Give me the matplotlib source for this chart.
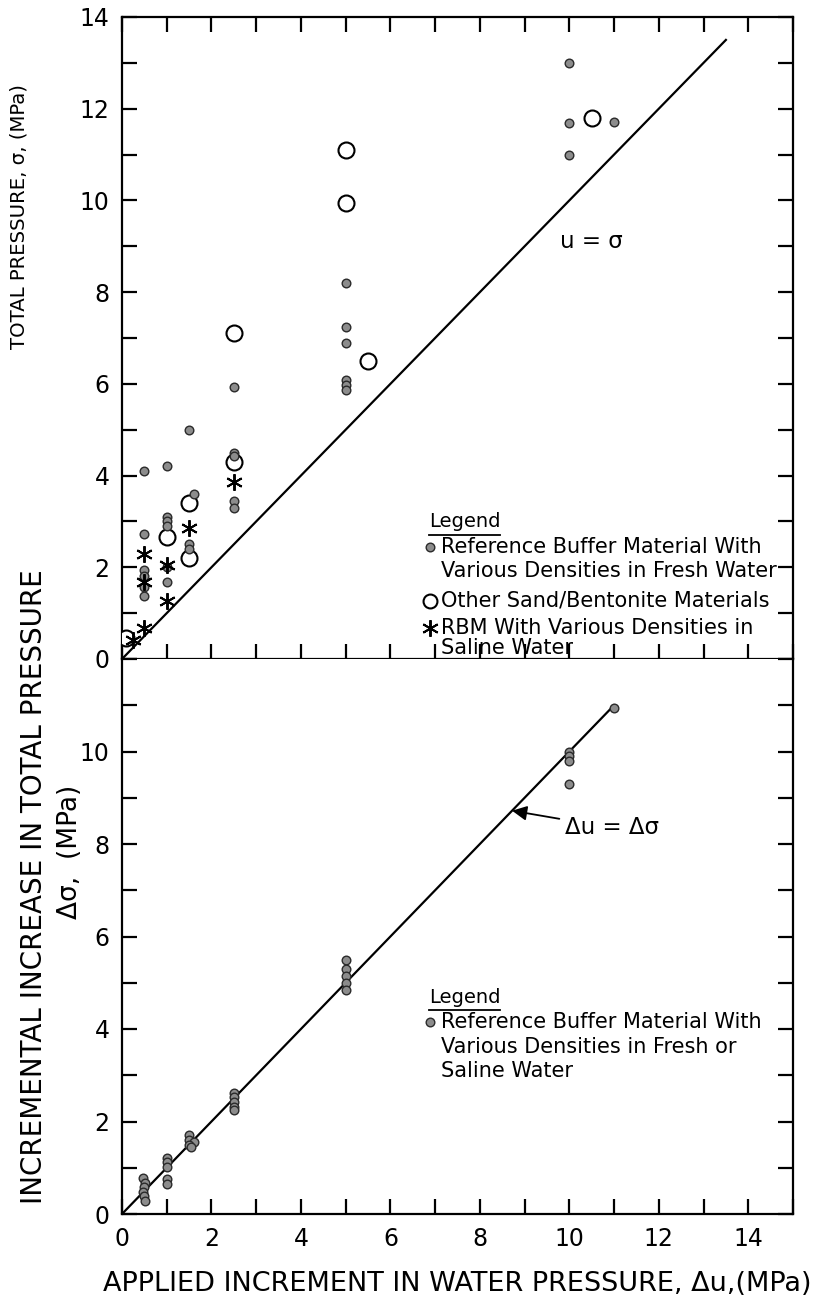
import matplotlib
matplotlib.use("Agg")
import matplotlib.pyplot as plt
from matplotlib.lines import Line2D
from matplotlib.ticker import MultipleLocator

plt.rcParams['font.family'] = ['DejaVu Sans']
plt.rcParams['mathtext.fontset'] = 'dejavusans'

# ---- upper panel: total pressure vs applied water pressure ----
fresh_x = [0.5, 0.5, 0.5, 0.5, 0.5, 0.5,
           1.0, 1.0, 1.0, 1.0, 1.0, 1.0,
           1.5, 1.5, 1.5, 1.6,
           2.5, 2.5, 2.5, 2.5, 2.5,
           5.0, 5.0, 5.0, 5.0, 5.0, 5.0,
           10.0, 10.0, 10.0, 11.0]
fresh_y = [4.1, 2.72, 1.94, 1.8, 1.57, 1.38,
           4.2, 3.1, 3.0, 2.9, 2.0, 1.68,
           5.0, 2.5, 2.4, 3.6,
           5.93, 4.5, 4.42, 3.45, 3.3,
           8.2, 7.25, 6.9, 6.08, 5.97, 5.87,
           13.0, 11.68, 11.0, 11.7]

other_x = [0.1, 1.0, 1.5, 1.5, 2.5, 2.5, 5.0, 5.0, 5.5, 10.5]
other_y = [0.45, 2.65, 2.2, 3.4, 4.3, 7.1, 11.1, 9.95, 6.5, 11.8]

saline_x = [0.25, 0.5, 0.5, 0.5, 1.0, 1.0, 1.5, 2.5]
saline_y = [0.42, 0.68, 1.68, 2.3, 1.26, 2.05, 2.85, 3.85]

equal_line_top = [0.0, 13.5]

# ---- lower panel: incremental total pressure vs applied increment ----
incr_x = [0.48, 0.52, 0.5, 0.48, 0.5, 0.52,
          1.0, 1.0, 1.0, 1.0, 1.0,
          1.5, 1.5, 1.6, 1.5, 1.55,
          2.5, 2.5, 2.5, 2.5, 2.5,
          5.0, 5.0, 5.0, 5.0, 5.0,
          10.0, 10.0, 10.0, 10.0,
          11.0]
incr_y = [0.78, 0.68, 0.58, 0.48, 0.38, 0.28,
          1.22, 1.12, 1.02, 0.75, 0.65,
          1.7, 1.6, 1.55, 1.5, 1.45,
          2.62, 2.52, 2.42, 2.32, 2.24,
          5.5, 5.3, 5.15, 5.0, 4.85,
          10.0, 9.9, 9.8, 9.3,
          10.95]
equal_line_bottom = [0.0, 11.0]

xticks_major = [0, 2, 4, 6, 8, 10, 12, 14]
top_yticks = [0, 2, 4, 6, 8, 10, 12, 14]
bottom_yticks = [0, 2, 4, 6, 8, 10]

W, H = 830, 1303
fig = plt.figure(figsize=(W / 100, H / 100), dpi=100)
left, right = 122, 793
ax1 = fig.add_axes([left / W, 1 - 659 / H, (right - left) / W, (659 - 17) / H])
ax2 = fig.add_axes([left / W, 1 - 1214 / H, (right - left) / W, (1214 - 659) / H])

DOT = dict(linestyle='none', marker='o', markersize=6.2, markerfacecolor='#8c8c8c',
           markeredgecolor='#2a2a2a', markeredgewidth=1.0, zorder=4)
CIRC = dict(linestyle='none', marker='o', markersize=11.5, markerfacecolor='white',
            markeredgecolor='black', markeredgewidth=1.5, zorder=3)
STAR = dict(linestyle='none', marker=(6, 2, 0), markersize=12, markeredgecolor='black',
            markeredgewidth=1.4, zorder=4)

for ax in (ax1, ax2):
    ax.set_xlim(0, 15)
    for s in ax.spines.values():
        s.set_linewidth(1.6)
    ax.xaxis.set_minor_locator(MultipleLocator(1))
    ax.yaxis.set_minor_locator(MultipleLocator(1))
    ax.tick_params(which='both', direction='in', length=11, width=1.6,
                   left=True, right=True, labelsize=17, pad=9)

LEG = 15

# upper panel
ax1.set_ylim(0, 14)
ax1.plot(equal_line_top, equal_line_top, color='black', lw=1.6, zorder=2)
ax1.plot(fresh_x, fresh_y, **DOT)
ax1.plot(other_x, other_y, **CIRC)
ax1.plot(saline_x, saline_y, **STAR)
ax1.set_xticks(xticks_major)
ax1.set_yticks(top_yticks)
ax1.tick_params(which='both', top=True, bottom=True, labelbottom=False)
ax1.set_ylabel('TOTAL PRESSURE, σ, (MPa)', fontsize=14.2)
ax1.yaxis.set_label_coords(-0.14, 0.69)
ax1.text(9.8, 9.1, 'u = σ', fontsize=16.5, va='center', ha='left')

# upper legend
lx, tx = 6.88, 7.13
leg_title1 = ax1.text(6.86, 3.0, 'Legend', fontsize=14, va='center', ha='left')
ax1.plot([lx], [2.44], **DOT)
ax1.text(tx, 2.44, 'Reference Buffer Material With', fontsize=LEG, va='center')
ax1.text(tx, 1.92, 'Various Densities in Fresh Water', fontsize=LEG, va='center')
ax1.plot([lx], [1.27], **dict(CIRC, markersize=10))
ax1.text(tx, 1.27, 'Other Sand/Bentonite Materials', fontsize=LEG, va='center')
ax1.plot([lx], [0.68], **STAR)
ax1.text(tx, 0.68, 'RBM With Various Densities in', fontsize=LEG, va='center')
ax1.text(tx, 0.24, 'Saline Water', fontsize=LEG, va='center')

# lower panel
ax2.set_ylim(0, 12)
ax2.plot(equal_line_bottom, equal_line_bottom, color='black', lw=1.6, zorder=2)
ax2.plot(incr_x, incr_y, **DOT)
ax2.set_xticks(xticks_major)
ax2.set_yticks(bottom_yticks)
ax2.tick_params(which='both', top=False, bottom=True)
ax2.spines['top'].set_visible(False)
ax2.set_xlabel('APPLIED INCREMENT IN WATER PRESSURE, Δu,(MPa)', fontsize=19.5, labelpad=15)
ax2.annotate('Δu = Δσ', xy=(8.72, 8.72), xytext=(9.9, 8.35), fontsize=16.5,
             va='center', ha='left',
             arrowprops=dict(arrowstyle='-|>', color='black', lw=1.3,
                             mutation_scale=22, shrinkA=2, shrinkB=0))
fig.text(34 / W, 1 - 887 / H, 'INCREMENTAL INCREASE IN TOTAL PRESSURE', rotation=90,
         fontsize=20, ha='center', va='center')
fig.text(70 / W, 1 - 852 / H, 'Δσ,  (MPa)', rotation=90, fontsize=19,
         ha='center', va='center')

# lower legend
leg_title2 = ax2.text(6.86, 4.69, 'Legend', fontsize=14, va='center', ha='left')
ax2.plot([lx], [4.15], **DOT)
ax2.text(tx, 4.15, 'Reference Buffer Material With', fontsize=LEG, va='center')
ax2.text(tx, 3.61, 'Various Densities in Fresh or', fontsize=LEG, va='center')
ax2.text(tx, 3.09, 'Saline Water', fontsize=LEG, va='center')

# underline the legend titles
fig.canvas.draw()
for ax, t in ((ax1, leg_title1), (ax2, leg_title2)):
    bb = t.get_window_extent().transformed(ax.transAxes.inverted())
    ax.add_line(Line2D([bb.x0, bb.x1], [bb.y0 - 0.006, bb.y0 - 0.006],
                       transform=ax.transAxes, color='black', lw=1.3, clip_on=False))

fig.savefig('out.png', dpi=100)
